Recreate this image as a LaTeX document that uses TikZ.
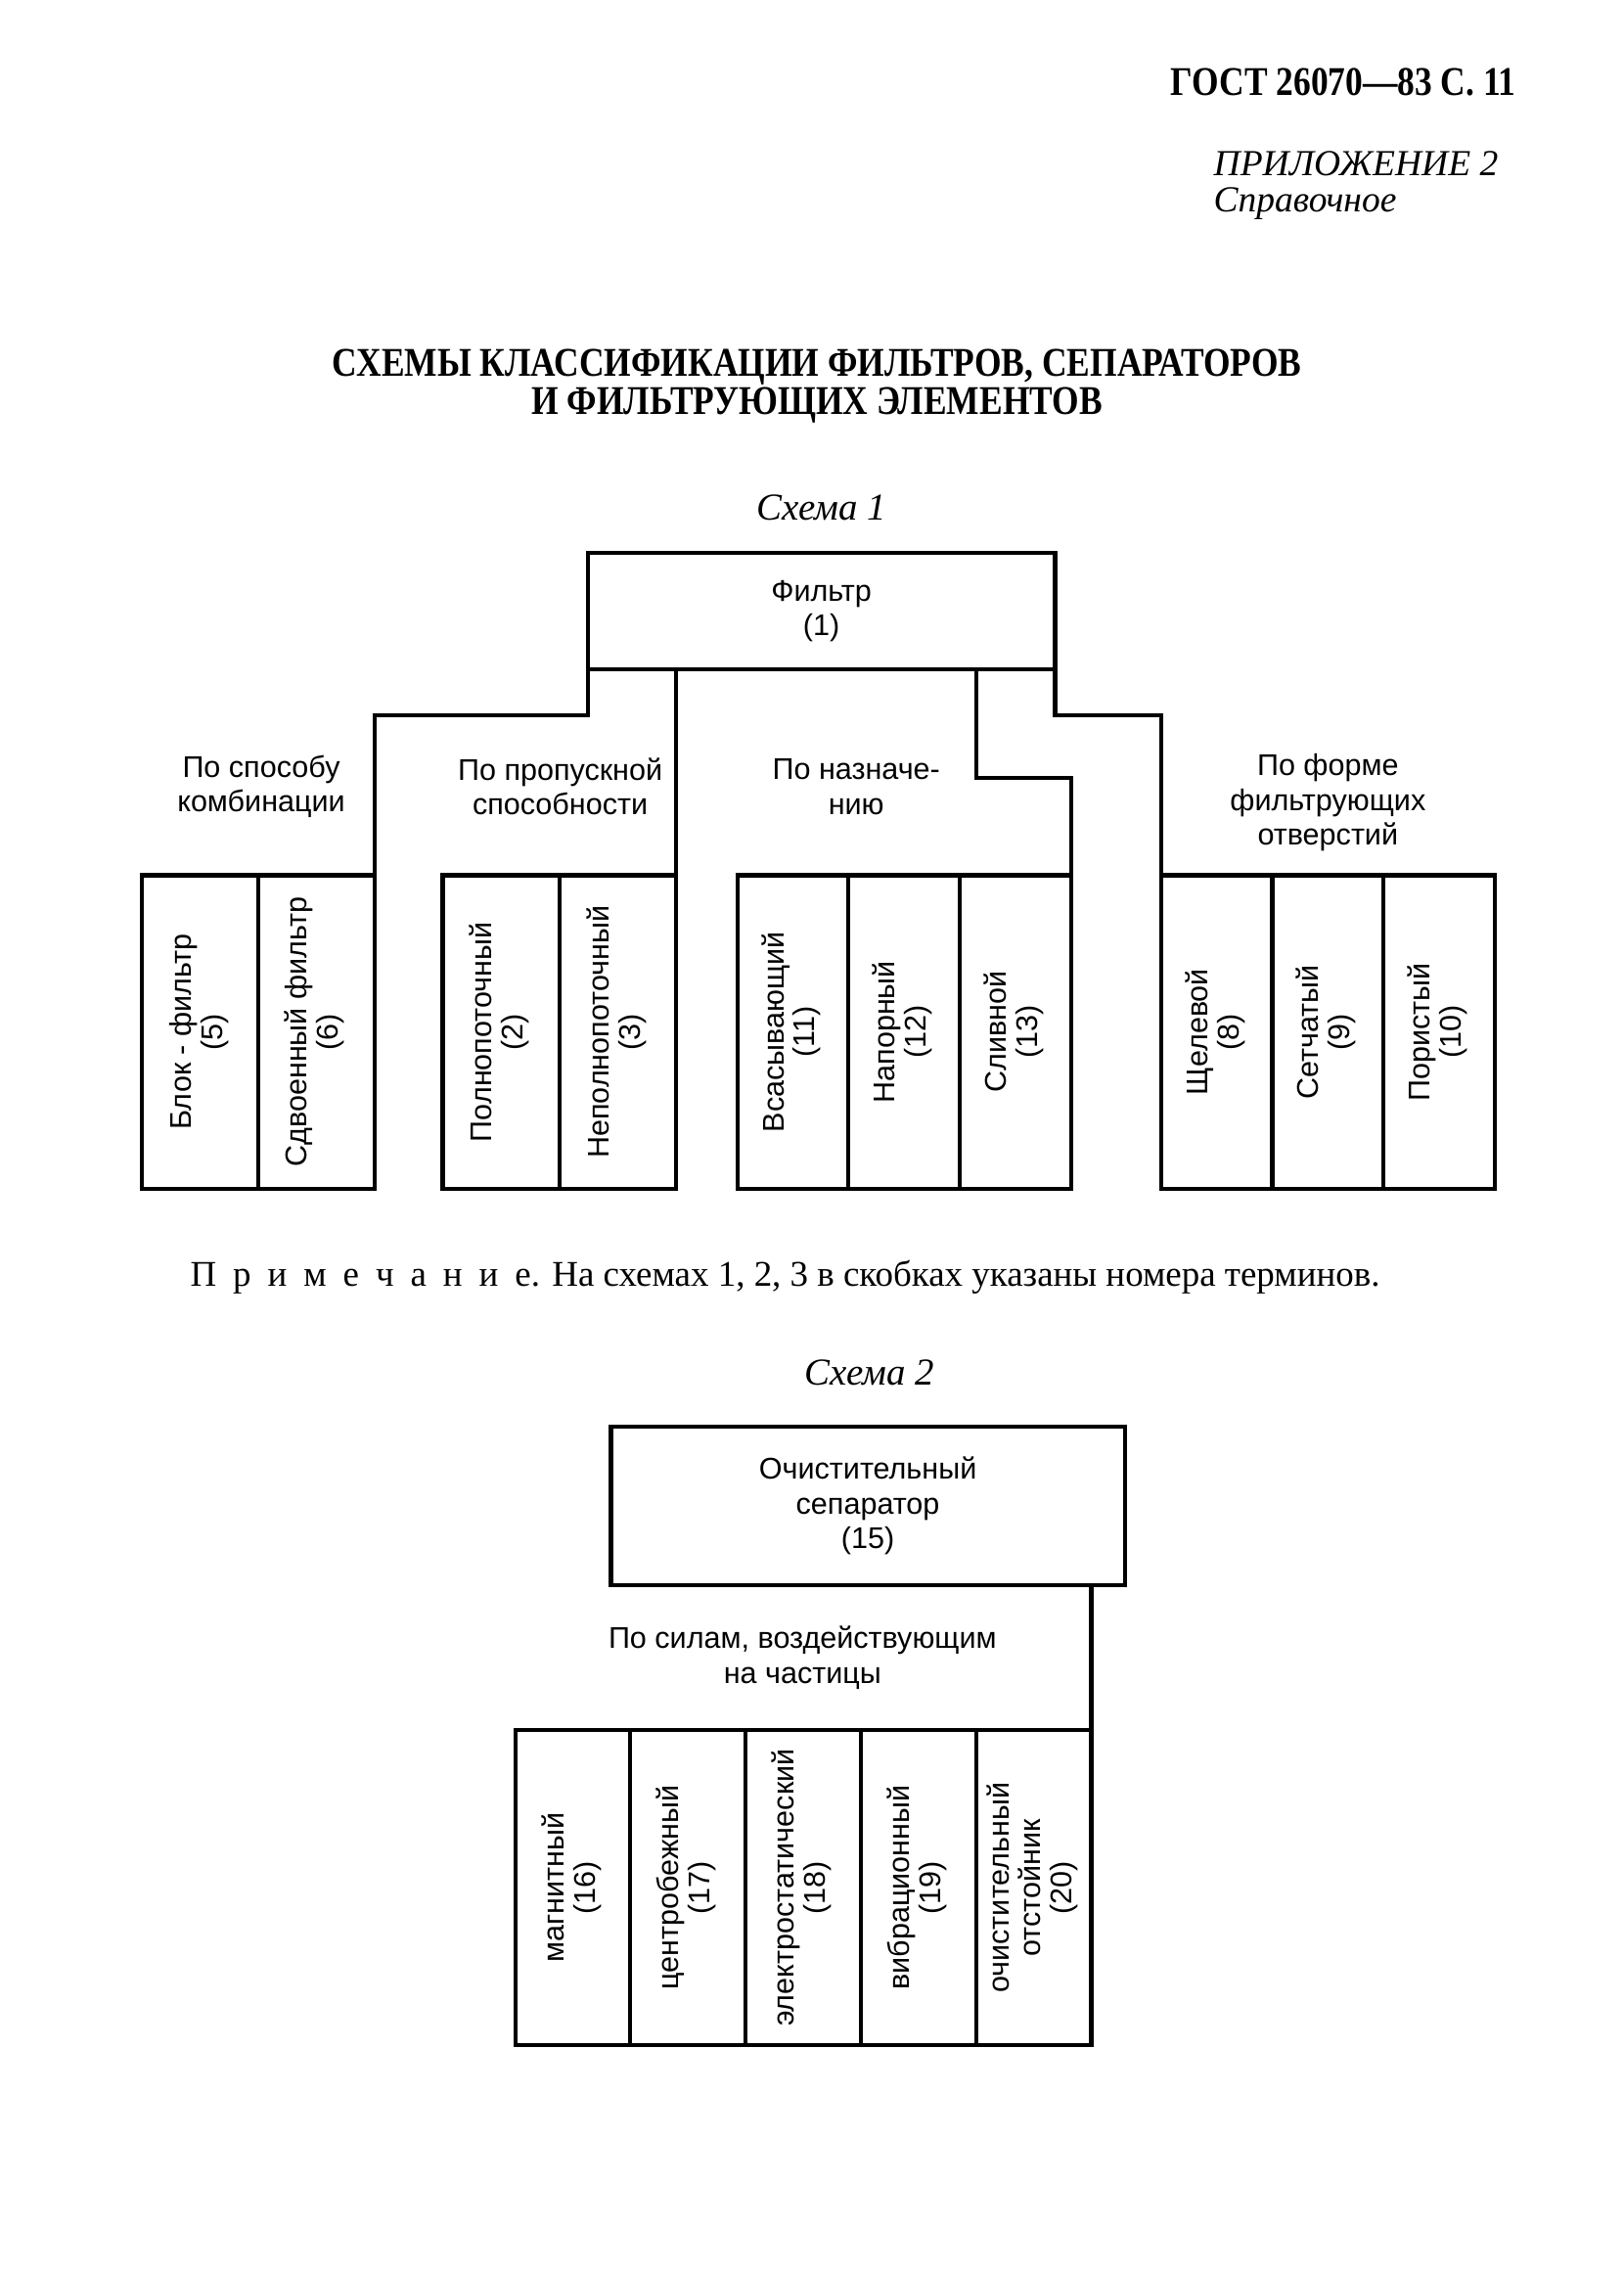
\documentclass[tikz,border=0pt]{standalone}
\usepackage{fontspec}
\setmainfont{Liberation Serif}
\newfontfamily\gostserif[FakeStretch=0.85]{Liberation Serif}
\newfontfamily\gostsans{Liberation Sans}
\usetikzlibrary{positioning, calc}

\newlength\pxu
\setlength\pxu{0.18767mm}
\newcommand\vlabel[1]{\rotatebox{90}{\begin{tabular}{@{}c@{}}#1\end{tabular}}}
\newcommand\spread{\hspace{6.1pt}}

\tikzset{
    box/.style={draw, line width=1.5pt, outer sep=0pt, inner sep=0pt, align=center,
        font=\gostsans\fontsize{11}{12.8}\selectfont},
    cell/.style={box, minimum width=#1\pxu, minimum height=216\pxu,
        font=\gostsans\fontsize{11}{11.5}\selectfont},
    crit/.style={inner sep=0pt, align=center, font=\gostsans\fontsize{11}{12.8}\selectfont},
    link/.style={line width=1.5pt},
    heading/.style={inner sep=0pt, font=\gostserif\bfseries\fontsize{15}{12}\selectfont},
    slanted/.style={inner sep=0pt, font=\rmfamily\itshape\fontsize{14}{17}\selectfont}
}

\begin{document}
\begin{tikzpicture}[x=\pxu, y=-\pxu]
    \useasboundingbox (0,0) rectangle (1119,1568);
    % page head
    \node[heading, anchor=base east] (gost) at (1045,66) {ГОСТ 26070—83 С. 11};
    \node[slanted, anchor=west, align=left, font=\rmfamily\itshape\fontsize{13.5}{13.2}\selectfont] (annex)
        at (836,128) {ПРИЛОЖЕНИЕ 2\\Справочное};
    \node[heading, align=center] (title) at (563,266)
        {СХЕМЫ КЛАССИФИКАЦИИ ФИЛЬТРОВ, СЕПАРАТОРОВ\\И ФИЛЬТРУЮЩИХ ЭЛЕМЕНТОВ};

    % scheme 1
    \node[slanted, anchor=base] (scheme1) at (566,358) {Схема 1};
    \node[box, minimum width=322\pxu, minimum height=80\pxu] (filter) at (566,421) {Фильтр\\(1)};

    \node[cell=80, anchor=north west] (c5) at (98,603) {\vlabel{Блок - фильтр\\(5)}};
    \node[cell=80, right=0pt of c5] (c6) {\vlabel{Сдвоенный фильтр\\(6)}};
    \node[cell=80.5, anchor=north west] (c2) at (305,603) {\vlabel{Полнопоточный\\(2)}};
    \node[cell=80.5, right=0pt of c2] (c3) {\vlabel{Неполнопоточный\\(3)}};
    \node[cell=76.7, anchor=north west] (c11) at (508,603) {\vlabel{Всасывающий\\(11)}};
    \node[cell=76.7, right=0pt of c11] (c12) {\vlabel{Напорный\\(12)}};
    \node[cell=76.7, right=0pt of c12] (c13) {\vlabel{Сливной\\(13)}};
    \node[cell=76.7, anchor=north west] (c8) at (800,603) {\vlabel{Щелевой\\(8)}};
    \node[cell=76.7, right=0pt of c8] (c9) {\vlabel{Сетчатый\\(9)}};
    \node[cell=76.7, right=0pt of c9] (c10) {\vlabel{Пористый\\(10)}};

    \node[crit] (bycomb) at (180,542) {По способу\\комбинации};
    \node[crit] (bycap) at (386,542) {По пропускной\\способности};
    \node[crit] (bypurp) at (590,542) {По назначе-\\нию};
    \node[crit] (byform) at (915,553) {По форме\\фильтрующих\\отверстий};

    \draw[link] (filter.south west) -- ++(0,32) -| (c6.north east);
    \draw[link] (c3.north east |- filter.south) -- (c3.north east);
    \draw[link] ($(filter.south east)+(-54,0)$) -- ++(0,75) -| (c13.north east);
    \draw[link] (filter.south east) -- ++(0,32) -| (c8.north west);

    \node[anchor=base, inner sep=0pt, font=\rmfamily\fontsize{13.3}{16}\selectfont] (note) at (541,886)
        {П\spread р\spread и\spread м\spread е\spread ч\spread а\spread н\spread и\spread е. На схемах 1, 2, 3 в скобках указаны номера терминов.};

    % scheme 2
    \node[slanted, anchor=base] (scheme2) at (599,954) {Схема 2};
    \node[box, minimum width=354\pxu, minimum height=109\pxu] (separator) at (598,1037.5)
        {Очистительный\\сепаратор\\(15)};

    \node[cell=79.4, minimum height=217\pxu, anchor=north west] (c16) at (355,1192) {\vlabel{магнитный\\(16)}};
    \node[cell=79.4, minimum height=217\pxu, right=0pt of c16] (c17) {\vlabel{центробежный\\(17)}};
    \node[cell=79.4, minimum height=217\pxu, right=0pt of c17] (c18) {\vlabel{электростатический\\(18)}};
    \node[cell=79.4, minimum height=217\pxu, right=0pt of c18] (c19) {\vlabel{вибрационный\\(19)}};
    \node[cell=79.4, minimum height=217\pxu, right=0pt of c19] (c20) {\vlabel{очистительный\\отстойник\\(20)}};

    \node[crit] (byforce) at (553,1142) {По силам, воздействующим\\на частицы};
    \draw[link] (c20.north east |- separator.south) -- (c20.north east);
\end{tikzpicture}
\end{document}
